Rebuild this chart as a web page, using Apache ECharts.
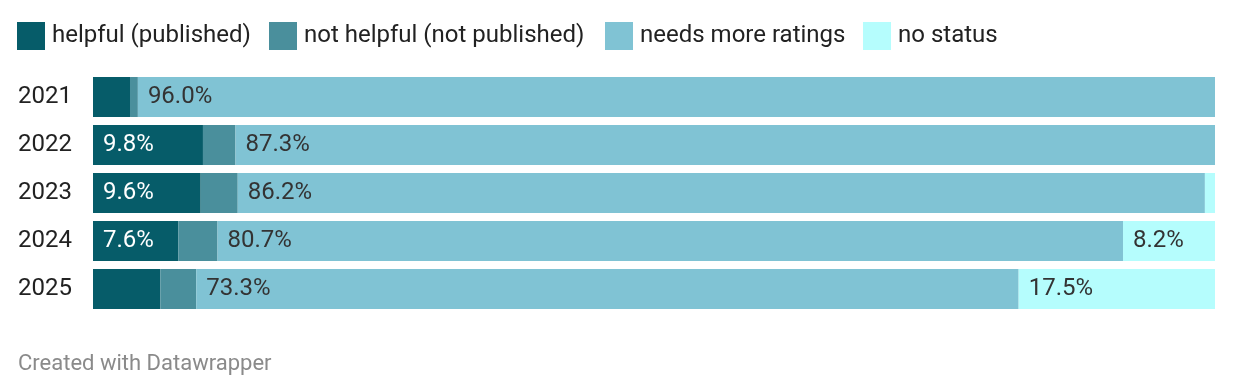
<!DOCTYPE html>
<html><head><meta charset="utf-8">
<script src="https://cdn.jsdelivr.net/npm/echarts@6/dist/echarts.min.js"></script>
<style>html,body{margin:0;padding:0;background:#fff}#c{width:1233px;height:388px}</style>
</head><body><div id="c"></div>
<script>
const years = ['2021','2022','2023','2024','2025'];
const helpful = [3.3, 9.8, 9.6, 7.6, 6.0];
const notHelpful = [0.7, 2.9, 3.3, 3.5, 3.2];
const needsMore = [96.0, 87.3, 86.2, 80.7, 73.3];
const noStatus = [0, 0, 0.9, 8.2, 17.5];
const seriesNames = ['helpful (published)', 'not helpful (not published)', 'needs more ratings', 'no status'];
const colors = ['#065c69', '#4a8f9c', '#80c3d4', '#b5fdfd'];
const labelColors = ['#ffffff', '#333333', '#333333', '#333333'];
const legendLefts = [12, 264, 600, 858];
const minLabel = 7;

const chart = echarts.init(document.getElementById('c'), null, {renderer: 'canvas'});
const F = 'Roboto, sans-serif';
const datasets = [helpful, notHelpful, needsMore, noStatus];
chart.setOption({
  animation: false,
  color: colors,
  textStyle: {fontFamily: F},
  legend: seriesNames.map((n, i) => ({
    left: legendLefts[i], top: 17, itemWidth: 28, itemHeight: 28, icon: 'rect',
    textStyle: {fontSize: 24, color: '#222', fontFamily: F, padding: [0,0,0,2]},
    data: [n]
  })),
  title: {
    text: 'Created with Datawrapper', left: 13, top: 348,
    textStyle: {fontSize: 22, color: '#8a8a8a', fontWeight: 'normal', fontFamily: F}
  },
  grid: {left: 93, right: 18, top: 73, height: 240, containLabel: false},
  xAxis: {type: 'value', min: 0, max: 100, show: false},
  yAxis: {
    type: 'category', data: years, inverse: true,
    axisLine: {show: false}, axisTick: {show: false},
    axisLabel: {fontSize: 24, color: '#222', margin: 21, fontFamily: F}
  },
  series: datasets.map((d, i) => ({
    name: seriesNames[i], type: 'bar', stack: 'total', data: d,
    barCategoryGap: '16.7%',
    itemStyle: {color: colors[i]},
    label: {
      show: true, position: 'insideLeft', distance: 10,
      color: labelColors[i], fontSize: 24, fontFamily: F,
      formatter: p => p.value >= minLabel ? p.value.toFixed(1) + '%' : ''
    }
  }))
});
</script></body></html>
